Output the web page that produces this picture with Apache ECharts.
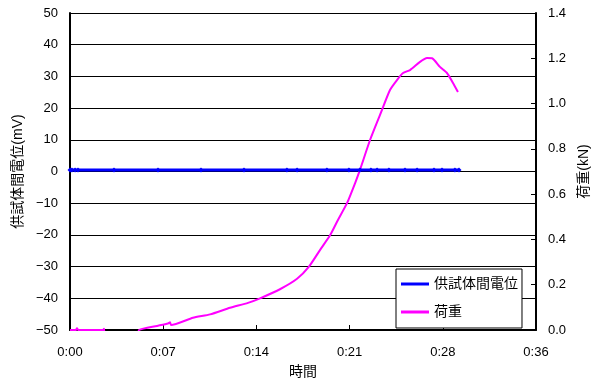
<!DOCTYPE html>
<html><head><meta charset="utf-8">
<script src="https://cdn.jsdelivr.net/npm/echarts@6/dist/echarts.min.js"></script>
<style>html,body{margin:0;padding:0;background:#fff}#c{width:596px;height:383px}</style>
</head><body><div id="c"></div>
<script>
// time in minutes
var xTickLabels = ['0:00','0:07','0:14','0:21','0:28','0:36'];
var potentialTime = [0,0.15,0.39,0.62,3.40,6.80,10.12,13.44,16.76,17.54,19.85,21.55,22.40,23.25,23.72,24.64,25.88,26.81,28.12,28.74,29.74,30.05];
var potentialMv   = [0.5,0.5,0.5,0.5,0.5,0.5,0.5,0.5,0.5,0.5,0.5,0.5,0.5,0.5,0.5,0.5,0.5,0.5,0.5,0.5,0.5,0.5];
var loadTime = [0,0.45,0.54,0.65,1.5,2.55,2.63,2.72,5.25,5.33,6.72,7.57,7.73,7.80,9.50,10.82,12.36,13.75,14.68,16.22,17.54,18.46,19.31,20.09,20.70,21.40,22.02,22.40,23.18,23.95,24.72,25.26,25.73,26.27,27.04,27.58,27.97,28.58,29.12,29.59,29.97];
var loadKn   = [0,0,0.008,0,0,0,0.005,-0.03,-0.03,0,0.018,0.029,0.034,0.022,0.054,0.069,0.098,0.120,0.140,0.180,0.226,0.280,0.353,0.418,0.486,0.560,0.648,0.707,0.839,0.950,1.060,1.104,1.135,1.148,1.184,1.201,1.200,1.162,1.135,1.091,1.051];
var seriesNames = ['供試体間電位','荷重'];

function pairs(xs, ys){ return xs.map(function(x,i){return [x, ys[i]];}); }
var ff = '"Liberation Sans","Noto Sans CJK JP",sans-serif';
var chart = echarts.init(document.getElementById('c'), null, {renderer:'canvas'});
chart.setOption({
  animation:false,
  backgroundColor:'#fff',
  textStyle:{fontFamily:ff},
  grid:{left:70,right:60,top:13,bottom:53,containLabel:false,outerBoundsMode:'none'},
  legend:{
    orient:'vertical', left:396, top:269,
    padding:[8,4,9,5], itemGap:14, itemWidth:28, itemHeight:3,
    backgroundColor:'#fff', borderColor:'#000', borderWidth:1, borderRadius:0,
    textStyle:{fontSize:14,color:'#000',fontFamily:ff},
    data:[{name:seriesNames[0],icon:'rect'},{name:seriesNames[1],icon:'rect'}]
  },
  xAxis:{
    type:'value', min:0, max:36, interval:7.2,
    name:'時間', nameLocation:'middle', nameGap:35,
    nameTextStyle:{fontSize:14,color:'#000',fontFamily:ff},
    axisLine:{show:true,onZero:false,lineStyle:{color:'#000',width:2}},
    axisTick:{show:true,inside:true,length:5,lineStyle:{color:'#000'}},
    axisLabel:{fontSize:13,color:'#000',margin:16,fontFamily:ff,
      formatter:function(v){return xTickLabels[Math.round(v/7.2)];}},
    splitLine:{show:false}
  },
  yAxis:[{
    type:'value', min:-50, max:50, interval:10, position:'left',
    name:'供試体間電位(mV)', nameLocation:'middle', nameGap:43, nameRotate:90,
    nameTextStyle:{fontSize:14,color:'#000',fontFamily:ff},
    axisLine:{show:true,lineStyle:{color:'#000',width:2}},
    axisTick:{show:false},
    axisLabel:{fontSize:13,color:'#000',margin:12,fontFamily:ff,
      formatter:function(v){return String(v).replace('-', '\u2212');}},
    splitLine:{show:true,lineStyle:{color:'#000',width:1}}
  },{
    type:'value', min:0, max:1.4, interval:0.2, position:'right',
    name:'荷重(kN)', nameLocation:'middle', nameGap:40, nameRotate:90,
    nameTextStyle:{fontSize:14,color:'#000',fontFamily:ff},
    axisLine:{show:true,lineStyle:{color:'#000',width:2}},
    axisTick:{show:true,inside:true,length:5,lineStyle:{color:'#000'}},
    axisLabel:{fontSize:13,color:'#000',margin:12,fontFamily:ff,
      formatter:function(v){return v.toFixed(1);}},
    splitLine:{show:false}
  }],
  series:[{
    name:seriesNames[0], type:'line', yAxisIndex:0,
    data:pairs(potentialTime, potentialMv),
    symbol:'diamond', symbolSize:5, showSymbol:true,
    itemStyle:{color:'#0000FF'}, lineStyle:{color:'#0000FF',width:3}, z:3
  },{
    name:seriesNames[1], type:'line', yAxisIndex:1,
    data:pairs(loadTime, loadKn),
    symbol:'none', clip:true, smooth:0.2,
    itemStyle:{color:'#FF00FF'}, lineStyle:{color:'#FF00FF',width:2}, z:2
  }]
});
</script></body></html>
